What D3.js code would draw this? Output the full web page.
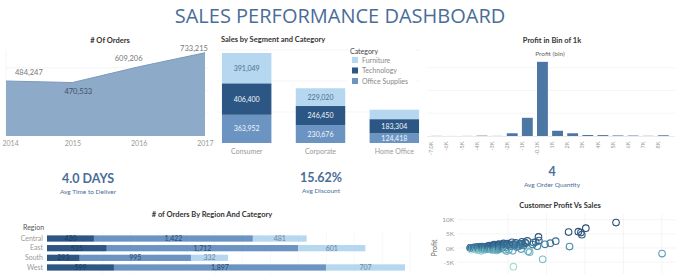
<!DOCTYPE html>
<html lang="en">
  <head>
    <meta charset="UTF-8" />
    <title>Sales Performance Dashboard</title>
    <script src="https://d3js.org/d3.v7.min.js"></script>
    <style>
      body { margin: 0; background: #fff; }
      svg text { font-family: Lato, "Open Sans", sans-serif; }
      .ttl { font-size: 7.5px; font-weight: bold; fill: #333; }
      .tick-lbl { font-size: 7px; fill: #999; }
      .grid line { stroke: #eee; stroke-width: 0.6; }
    </style>
  </head>
  <body>
    <div id="chart"></div>
    <script>
      // ---- data ----
      const years = ['2014', '2015', '2016', '2017'];
      const orders = [484247, 470533, 609206, 733215];

      const segments = ['Consumer', 'Corporate', 'Home Office'];
      const categories = ['Furniture', 'Technology', 'Office Supplies'];
      const segOffice = [363952, 230676, 124418];
      const segTech = [406400, 246450, 183304];
      const segFurn = [391049, 229020, 121931];

      const binLabels = ['-7.0K', '-6K', '-5K', '-4K', '-3K', '-2K', '-1K', '-0.1K',
        '1K', '2K', '3K', '4K', '5K', '6K', '7K', '8K'];
      const binCounts = [3, 1, 2, 8, 3, 60, 400, 1630, 115, 60, 22, 20, 12, 10, 4, 16];

      const regions = ['Central', 'East', 'South', 'West'];
      const regTech = [420, 535, 293, 599];
      const regOffice = [1422, 1712, 995, 1897];
      const regFurn = [481, 601, 332, 707];

      const kpiValues = ['4.0 DAYS', '15.62%', '4'];
      const kpiLabels = ['Avg Time to Deliver', 'Avg Discount', 'Avg Order Quantity'];

      // customer sales / profit
      const custSales = [25043, 19052, 15117, 14142, 12873, 14474, 14596, 13000, 5690, 11200,
        10500, 9800, 9000, 8954, 8600, 8200, 7800, 7500, 7200, 7000,
        6800, 6500, 6300, 6000, 5800, 5500, 5300, 5100, 4900, 4700,
        4500, 4300, 4100, 3900, 3800, 3600, 3400, 3300, 3100, 3000,
        2900, 2800, 2700, 2600, 2500, 2400, 2300, 2200, 2100, 2000,
        1900, 1800, 1700, 1600, 1500, 1400, 1300, 1200, 1100, 1000,
        900, 800, 700, 600, 500, 400, 300, 200, 120, 60,
        9500, 8800, 7600, 6700, 6100, 5600, 4800, 4200, 3500, 2900,
        2300, 1800, 1300, 900, 3700, 4400, 5200, 6400, 2600, 3200,
        7300, 8300, 4600, 3900, 2100, 1500, 1000, 700, 400, 250,
        150, 350, 550, 750, 950, 1150, 1350, 1550, 1750, 1950,
        2150, 2350, 2550, 2750, 2950, 3150, 3350, 3550, 3750, 3950,
        4150, 4350, 4550, 4750, 4950, 5150, 5400, 5700, 6050, 6600,
        250, 450, 650, 850, 1050, 1250, 1450, 1650, 1850, 2050,
        2250, 2450, 2650, 2850, 3050, 3250, 3450, 3650, 4050, 4650,
        100, 300, 500, 700, 1100, 1600, 2400, 3000, 3800, 6900];
      const custProfit = [-1980, 8981, 6976, 5757, 5622, 5445, 4703, 500, -6626, 2400,
        1700, 1300, 2600, 3900, 2100, 1200, -1500, 2500, 1900, 900,
        2200, 1400, 700, 1800, 1100, 2000, 600, -600, 1500, 900,
        1300, 400, 1000, 700, 1100, -400, 800, 500, 900, 300,
        600, 350, 700, 250, 500, 200, 450, 300, 150, 400,
        250, 300, 200, 180, 220, 150, 120, 100, 80, 90,
        70, 60, 50, 40, 30, 20, 15, 10, 5, 2,
        -4000, 600, -1200, -400, 300, -1000, -1100, 100, -900, -700,
        -300, -600, -250, -300, 900, 1600, 1200, 600, 800, 1200,
        1700, 1900, 200, -200, -500, -1000, -800, -300, -150, -600,
        40, 80, 120, 160, 200, 260, 300, 350, 400, 430,
        480, 520, 560, 600, 650, 700, 720, 760, 800, 850,
        880, 920, 960, 1000, 1050, 1100, 1150, 1250, 1300, 1500,
        -50, -100, -150, -120, -200, -180, -250, -220, -150, -300,
        -200, -350, -250, -400, -300, -450, -350, -500, -250, -600,
        20, 60, 110, 180, 300, 500, 700, 900, 1400, 1400];

      // ---- layout ----
      const W = 680, H = 280;
      const svg = d3.select('#chart').append('svg')
        .attr('width', W).attr('height', H);

      const blueDark = '#2c5784', blueMid = '#6b94c2', blueLight = '#b5d7ef';
      const catColor = { 'Furniture': blueLight, 'Technology': blueDark, 'Office Supplies': blueMid };

      svg.append('text')
        .attr('x', 340).attr('y', 23)
        .attr('text-anchor', 'middle')
        .style('font-family', '"Open Sans", sans-serif')
        .style('font-size', '20px')
        .attr('fill', '#4a6d97')
        .text('SALES PERFORMANCE DASHBOARD');

      // ---- # Of Orders area ----
      const ax = d3.scalePoint().domain(years).range([6, 205]);
      const ay = d3.scaleLinear().domain([0, 775000]).range([136, 48]);
      const areaG = svg.append('g');
      areaG.append('text').attr('class', 'ttl').attr('x', 110).attr('y', 43)
        .attr('text-anchor', 'middle').text('# Of Orders');
      areaG.append('g').attr('class', 'grid')
        .selectAll('line').data([200000, 400000, 600000]).join('line')
        .attr('x1', 6).attr('x2', 208).attr('y1', d => ay(d)).attr('y2', d => ay(d));
      areaG.append('line').attr('x1', 6).attr('x2', 6).attr('y1', 50).attr('y2', 136)
        .attr('stroke', '#eee').attr('stroke-width', 0.6);
      const area = d3.area().x((d, i) => ax(years[i])).y0(ay(0)).y1(d => ay(d));
      areaG.append('path').datum(orders).attr('d', area).attr('fill', '#8eaac9');
      areaG.append('path').datum(orders)
        .attr('d', d3.line().x((d, i) => ax(years[i])).y(d => ay(d)))
        .attr('fill', 'none').attr('stroke', '#7c99bd').attr('stroke-width', 1);
      const axB = d3.axisBottom(ax).tickSize(0).tickPadding(5);
      areaG.append('g').attr('transform', `translate(0,${ay(0)})`).call(axB)
        .call(g => g.select('.domain').remove())
        .selectAll('text').attr('class', 'tick-lbl').style('font-size', '7px')
        .attr('text-anchor', (d, i) => i === 0 ? 'start' : (i === 3 ? 'end' : 'middle'))
        .attr('dx', (d, i) => i === 0 ? -4 : (i === 3 ? 8 : 0));
      const areaLblDy = [-6, 11, -6, -2];
      const areaLblDx = [9, 6, -10, -11];
      areaG.selectAll('.albl').data(orders).join('text')
        .attr('x', (d, i) => ax(years[i]) + areaLblDx[i])
        .attr('y', (d, i) => ay(d) + areaLblDy[i])
        .attr('text-anchor', (d, i) => i === 0 ? 'start' : 'middle')
        .style('font-size', '7.5px')
        .attr('fill', (d, i) => i === 1 ? '#3d4f66' : '#777')
        .text(d => d3.format(',')(d));

      // ---- Sales by Segment and Category ----
      const sx = d3.scaleBand().domain(segments).range([219, 422]).paddingInner(0.33).paddingOuter(0.04);
      const sy = d3.scaleLinear().domain([0, 1161401]).range([143, 53]);
      const segG = svg.append('g');
      segG.append('text').attr('class', 'ttl').attr('x', 221).attr('y', 42).text('Sales by Segment and Category');
      segG.append('g').attr('class', 'grid').selectAll('line').data([400000, 800000, 1200000]).join('line')
        .attr('x1', 217).attr('x2', 420).attr('y1', d => sy(d)).attr('y2', d => sy(d));
      const stackData = segments.map((s, i) => ({
        seg: s, 'Office Supplies': segOffice[i], 'Technology': segTech[i], 'Furniture': segFurn[i]
      }));
      const stack = d3.stack().keys(['Office Supplies', 'Technology', 'Furniture'])(stackData);
      stack.forEach(layer => {
        const lg = segG.append('g');
        lg.selectAll('rect').data(layer).join('rect')
          .attr('x', d => sx(d.data.seg)).attr('width', sx.bandwidth())
          .attr('y', d => sy(d[1])).attr('height', d => sy(d[0]) - sy(d[1]))
          .attr('fill', catColor[layer.key]);
        lg.selectAll('text').data(layer.filter(d => d[1] - d[0] > 123000)).join('text')
          .attr('x', d => sx(d.data.seg) + sx.bandwidth() / 2)
          .attr('y', d => (sy(d[0]) + sy(d[1])) / 2 + 2.5)
          .attr('text-anchor', 'middle')
          .style('font-size', '7px')
          .attr('fill', layer.key === 'Furniture' ? '#4f6f8f' : '#f2f6fa')
          .text(d => d3.format(',')(d[1] - d[0]));
      });
      segG.append('g').attr('transform', 'translate(0,143)')
        .call(d3.axisBottom(sx).tickSize(0).tickPadding(6))
        .call(g => g.select('.domain').remove())
        .selectAll('text').attr('class', 'tick-lbl').style('font-size', '7px');
      // legend
      const leg = segG.append('g').attr('transform', 'translate(350,0)');
      leg.append('rect').attr('x', -2).attr('y', 46).attr('width', 68).attr('height', 40).attr('fill', '#fff');
      leg.append('text').attr('x', 0).attr('y', 54).style('font-size', '7px').attr('fill', '#444').text('Category');
      categories.forEach((c, i) => {
        leg.append('rect').attr('x', 2).attr('y', 57 + i * 10.5).attr('width', 6).attr('height', 6)
          .attr('fill', catColor[c]);
        leg.append('text').attr('x', 12).attr('y', 62.5 + i * 10.5)
          .style('font-size', '7px').attr('fill', '#888').text(c);
      });

      // ---- Profit in Bin of 1k ----
      const hx = d3.scaleBand().domain(binLabels).range([427, 673]).padding(0.28);
      const hy = d3.scaleLinear().domain([0, 2000]).range([136, 45]);
      const hG = svg.append('g');
      hG.append('text').attr('class', 'ttl').attr('x', 552).attr('y', 43)
        .attr('text-anchor', 'middle').text('Profit in Bin of 1k');
      hG.append('text').attr('x', 550).attr('y', 56).attr('text-anchor', 'middle')
        .style('font-size', '6.5px').attr('fill', '#666').text('Profit (bin)');
      hG.append('g').attr('class', 'grid').selectAll('line').data([500, 1000, 1500]).join('line')
        .attr('x1', 427).attr('x2', 675).attr('y1', d => hy(d)).attr('y2', d => hy(d));
      hG.selectAll('rect').data(binCounts).join('rect')
        .attr('x', (d, i) => hx(binLabels[i])).attr('width', hx.bandwidth())
        .attr('y', d => hy(d)).attr('height', d => hy(0) - hy(d))
        .attr('fill', '#4c76a3');
      hG.append('line').attr('x1', 427).attr('x2', 675).attr('y1', 136.5).attr('y2', 136.5)
        .attr('stroke', '#ddd').attr('stroke-width', 0.6);
      hG.append('g').attr('transform', 'translate(0,137)')
        .call(d3.axisBottom(hx).tickSize(0).tickPadding(3))
        .call(g => g.select('.domain').remove())
        .selectAll('text')
        .attr('class', 'tick-lbl').style('font-size', '5.5px')
        .attr('transform', 'rotate(-90)')
        .attr('text-anchor', 'end').attr('dx', '-0.3em').attr('dy', '-0.6em')
        .attr('y', 0).attr('x', -3);

      // ---- KPIs ----
      const kpiX = [88, 321, 552];
      const kpiY = [183, 182, 176];
      kpiValues.forEach((v, i) => {
        svg.append('text').attr('x', kpiX[i]).attr('y', kpiY[i]).attr('text-anchor', 'middle')
          .style('font-size', '12.5px').style('font-weight', 'bold')
          .attr('fill', '#4a6d97').text(v);
        svg.append('text').attr('x', kpiX[i]).attr('y', kpiY[i] + 11).attr('text-anchor', 'middle')
          .style('font-size', '6.5px').attr('fill', '#4a6d97').text(kpiLabels[i]);
      });

      // ---- # of Orders By Region And Category ----
      const rG = svg.append('g');
      rG.append('text').attr('class', 'ttl').attr('x', 212).attr('y', 217)
        .attr('text-anchor', 'middle').text('# of Orders By Region And Category');
      rG.append('text').attr('x', 23).attr('y', 230).style('font-size', '7px').attr('fill', '#555').text('Region');
      const ry = d3.scaleBand().domain(regions).range([232, 274]).padding(0.35);
      const rx = d3.scaleLinear().domain([0, 3203]).range([47, 405]);
      rG.append('g').attr('class', 'grid').selectAll('line').data(d3.range(250, 3500, 250)).join('line')
        .attr('y1', 232).attr('y2', 274).attr('x1', d => rx(d)).attr('x2', d => rx(d))
        .style('stroke', '#f3f3f3');
      const rData = regions.map((r, i) => ({
        region: r, 'Technology': regTech[i], 'Office Supplies': regOffice[i], 'Furniture': regFurn[i]
      }));
      const rStack = d3.stack().keys(['Technology', 'Office Supplies', 'Furniture'])(rData);
      rStack.forEach(layer => {
        const lg = rG.append('g');
        lg.selectAll('rect').data(layer).join('rect')
          .attr('y', d => ry(d.data.region)).attr('height', ry.bandwidth())
          .attr('x', d => rx(d[0])).attr('width', d => rx(d[1]) - rx(d[0]))
          .attr('fill', catColor[layer.key]);
        lg.selectAll('text').data(layer).join('text')
          .attr('x', d => (rx(d[0]) + rx(d[1])) / 2)
          .attr('y', d => ry(d.data.region) + ry.bandwidth() / 2 + 2.5)
          .attr('text-anchor', 'middle').style('font-size', '7px')
          .attr('fill', layer.key === 'Technology' ? '#1e3c5e' : (layer.key === 'Furniture' ? '#6a86a3' : '#2b4a6c'))
          .text(d => d3.format(',')(d[1] - d[0]));
      });
      rG.append('g').attr('transform', 'translate(45,0)')
        .call(d3.axisLeft(ry).tickSize(0).tickPadding(2))
        .call(g => g.select('.domain').remove())
        .selectAll('text').attr('class', 'tick-lbl').style('font-size', '7px');

      // ---- Customer Profit Vs Sales ----
      const cx = d3.scaleLinear().domain([0, 26000]).range([469.7, 669.4]);
      const cy = d3.scaleLinear().domain([-8000, 12000]).range([270.6, 214]);
      const cG = svg.append('g');
      cG.append('text').attr('class', 'ttl').attr('x', 560).attr('y', 208)
        .attr('text-anchor', 'middle').text('Customer Profit Vs Sales');
      cG.append('g').attr('class', 'grid').selectAll('line').data([-5000, 0, 5000, 10000]).join('line')
        .attr('x1', 458).attr('x2', 676).attr('y1', d => cy(d)).attr('y2', d => cy(d));
      cG.append('g').attr('class', 'grid').selectAll('line').data([5000, 10000, 15000, 20000, 25000]).join('line')
        .attr('y1', 214).attr('y2', 274).attr('x1', d => cx(d)).attr('x2', d => cx(d));
      cG.append('g').attr('transform', 'translate(456,0)')
        .call(d3.axisLeft(cy).tickValues([-5000, 0, 5000, 10000]).tickSize(0).tickPadding(2)
          .tickFormat(d => (d / 1000) + 'K'))
        .call(g => g.select('.domain').remove())
        .selectAll('text').attr('class', 'tick-lbl').style('font-size', '6.5px');
      cG.append('text').attr('transform', 'translate(437,248) rotate(-90)')
        .attr('text-anchor', 'middle').style('font-size', '7px').attr('fill', '#666').text('Profit');
      const col = d3.scaleLinear().domain([-1, -0.2, 0.1, 0.45])
        .range(['#a6dcd6', '#6fb3c0', '#3f7fa3', '#2a4d74']).clamp(true);
      const pts = custSales.map((s, i) => ({ s: s, p: custProfit[i] }));
      pts.sort((a, b) => a.s - b.s);
      cG.selectAll('circle').data(pts).join('circle')
        .attr('cx', d => cx(d.s)).attr('cy', d => cy(d.p)).attr('r', 3.3)
        .attr('fill', 'none').attr('stroke-width', 1.1)
        .attr('stroke', d => col(d.p / d.s));
    </script>
  </body>
</html>
